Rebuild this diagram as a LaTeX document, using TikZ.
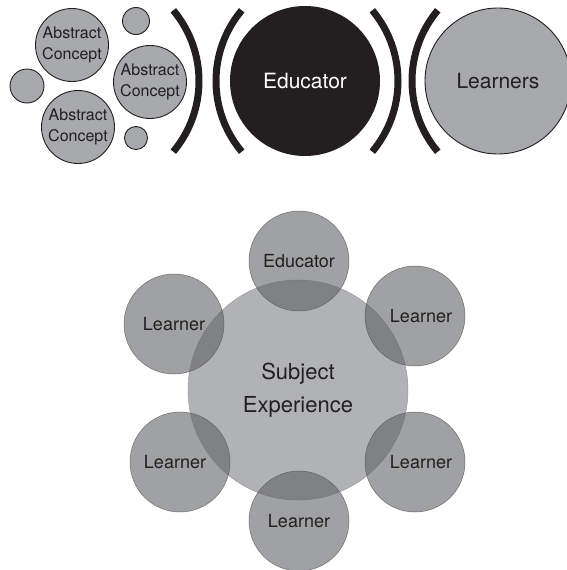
\documentclass[tikz,border=0pt]{standalone}
\usepackage{fontspec}
\setmainfont{TeX Gyre Heros}
\definecolor{ink}{RGB}{35,31,32}
\definecolor{conceptgray}{RGB}{168,169,172}
\definecolor{subjectgray}{RGB}{177,178,181}
\definecolor{membergray}{RGB}{94,95,98}

\begin{document}
\begin{tikzpicture}[x=1pt,y=-1pt]
        \tikzstyle{every node}=[circle,inner sep=0pt,text=ink]
        \tikzstyle{concept}=[draw=ink,fill=conceptgray,line width=0.9pt,minimum size=73pt,align=center,font=\fontsize{16}{21}\selectfont]
        \tikzstyle{dot}=[draw=ink,fill=conceptgray,line width=0.9pt]
        \tikzstyle{bracket}=[draw=ink,line width=7pt]
        \tikzstyle{member}=[draw=ink!75,fill=membergray,fill opacity=0.59,draw opacity=0.8,text opacity=1,line width=0.5pt,minimum size=100pt,font=\fontsize{18}{22}\selectfont]
        \tikzstyle{tag}=[text opacity=1,fill opacity=1,font=\fontsize{18}{22}\selectfont]
        \useasboundingbox (0,0) rectangle (567,570);
        % top row
        \node[concept] (ac1) at (72,45) {Abstract\\Concept};
        \node[concept] (ac2) at (150,82) {Abstract\\Concept};
        \node[concept] (ac3) at (78,127) {Abstract\\Concept};
        \node[dot,minimum size=34pt] (dot1) at (27,86) {};
        \node[dot,minimum size=27pt] (dot2) at (136,21) {};
        \node[dot,minimum size=23pt] (dot3) at (136,138) {};
        \node[fill=ink,text=white,minimum size=150pt,font=\fontsize{21}{25}\selectfont] (edu) at (305,81) {Educator};
        \node[concept,minimum size=146pt,font=\fontsize{21}{25}\selectfont] (lrn) at (498,81) {Learners};
        \draw[bracket] (89,81) ++(-40:110) arc[start angle=-40,end angle=40,radius=110];
        \draw[bracket] (326,81) ++(140:110) arc[start angle=140,end angle=220,radius=110];
        \draw[bracket] (288,81) ++(-40:110) arc[start angle=-40,end angle=40,radius=110];
        \draw[bracket] (522,81) ++(140:110) arc[start angle=140,end angle=220,radius=110];
        % bottom group
        \node[draw=ink!45,fill=subjectgray,line width=0.5pt,minimum size=220pt,align=center,font=\fontsize{22}{33}\selectfont] (subj) at (298,390) {Subject\\Experience};
        \node[member] (edu2) at (299,261) {Educator};
        \node[member,label={[tag,xshift=6pt]center:Learner}] (l1) at (415,316) {};
        \node[member,label={[tag,xshift=6pt]center:Learner}] (l2) at (415,462) {};
        \node[member] (l3) at (299,521) {Learner};
        \node[member,label={[tag,xshift=-5pt]center:Learner}] (l4) at (180,462) {};
        \node[member] (l5) at (174,324) {Learner};
    \end{tikzpicture}
\end{document}
